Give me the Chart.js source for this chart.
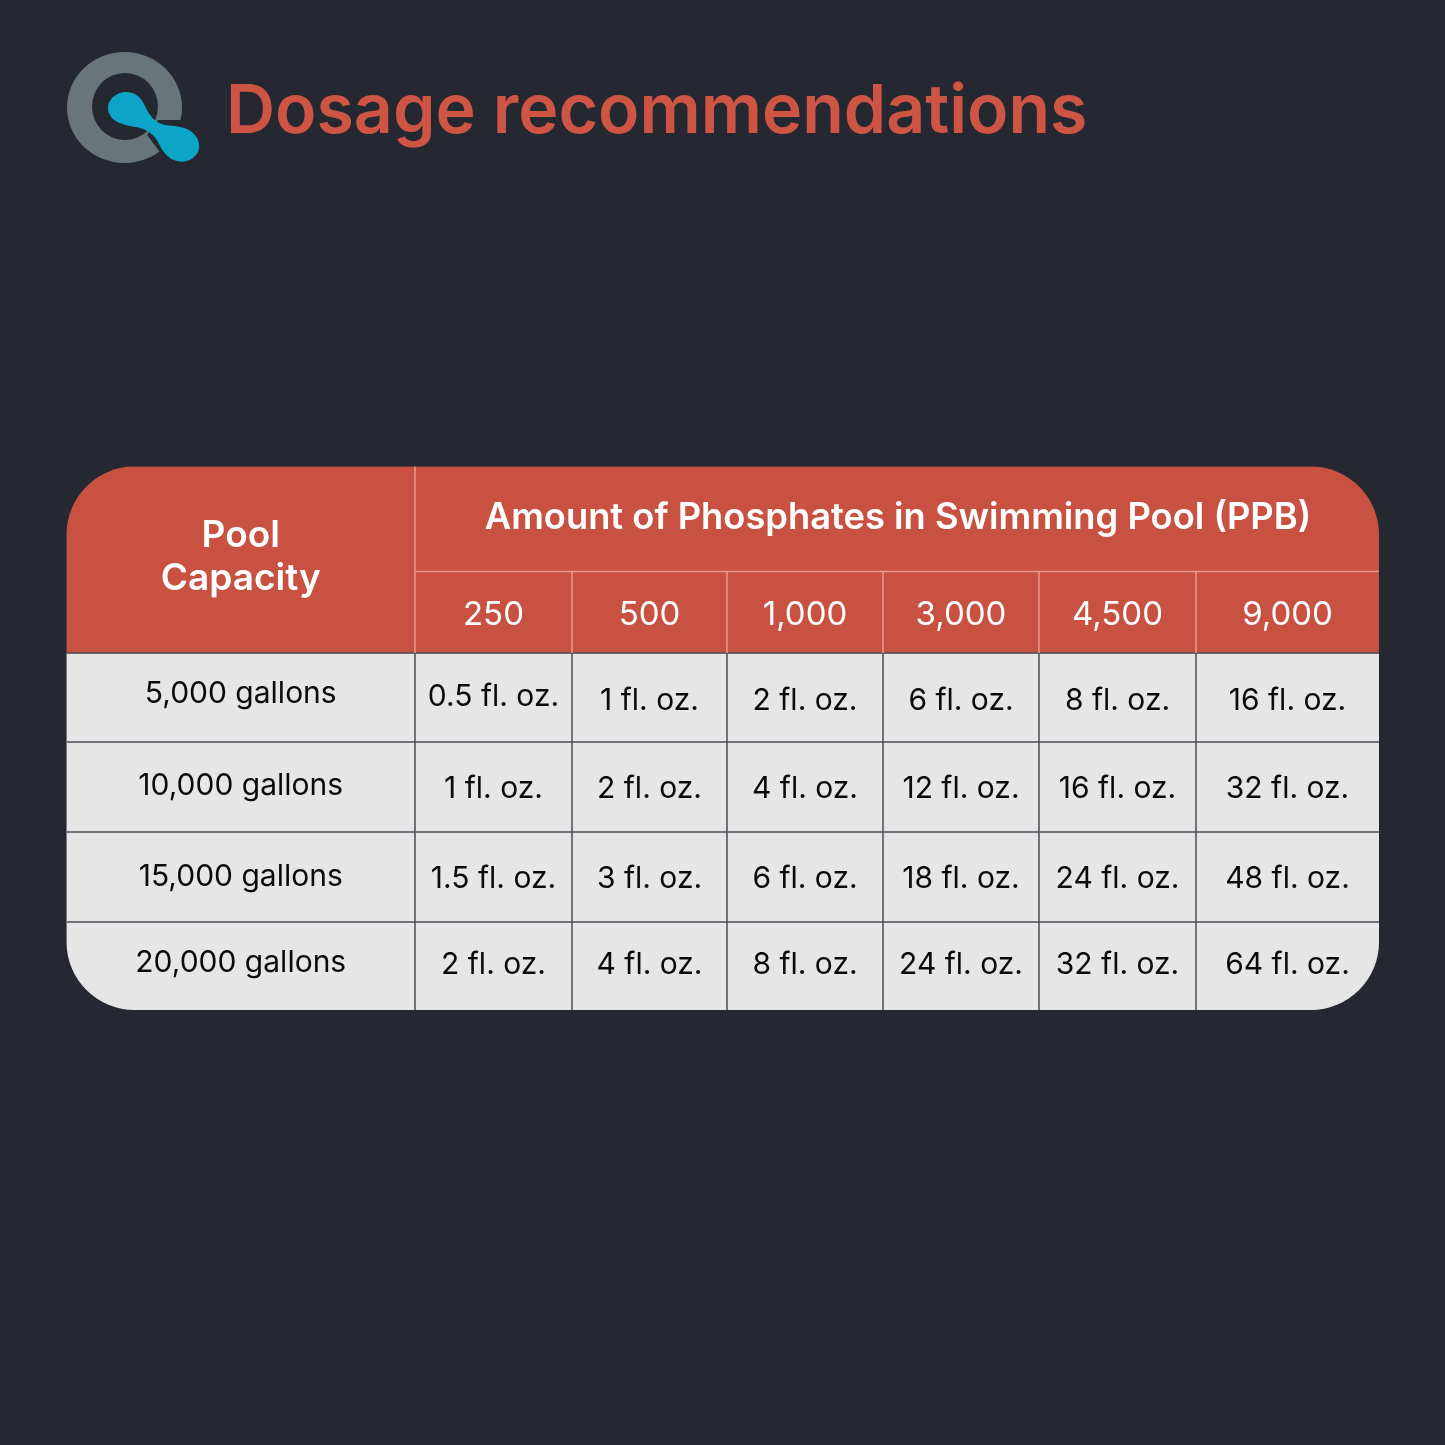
<!DOCTYPE html>
<html>
<head>
<meta charset="utf-8">
<title>Dosage recommendations</title>
<script src="https://cdn.jsdelivr.net/npm/chart.js@4"></script>
<style>
    body { margin: 0; background: #252831; }
    canvas { display: block; }
</style>
</head>
<body>
<canvas id="myChart" width="1445" height="1445"></canvas>
<script>
const titleText = 'Dosage recommendations';
const firstHeader = ['Pool', 'Capacity'];
const groupHeader = 'Amount of Phosphates in Swimming Pool (PPB)';
const phosphateLevels = ['250', '500', '1,000', '3,000', '4,500', '9,000'];
const poolCapacities = ['5,000 gallons', '10,000 gallons', '15,000 gallons', '20,000 gallons'];
const dose5000 = [0.5, 1, 2, 6, 8, 16];
const dose10000 = [1, 2, 4, 12, 16, 32];
const dose15000 = [1.5, 3, 6, 18, 24, 48];
const dose20000 = [2, 4, 8, 24, 32, 64];
const doses = [dose5000, dose10000, dose15000, dose20000];

// table layout, in page pixels
const colEdges = [66.5, 415, 572, 727, 883, 1039, 1196, 1379];
const rowEdges = [653, 742, 832, 922, 1010];
const tableTop = 466.5;
const subHeaderTop = 571.5;
const cornerRadius = 68;
const nameBaselines = [703, 795, 886, 972];
const doseBaselines = [[706, 710, 710, 710, 710, 710], [798, 798, 798, 798, 798, 798], [888, 888, 888, 888, 888, 888], [974, 974, 974, 974, 974, 974]];

const RED = '#c95141';
const CELL = '#e6e6e6';
const HEADER_LINE = '#ea9a8f';
const BODY_LINE = '#484c55';
const FONT = 'Inter';

function bandDataset(cells, top, bottom, color) {
    return {
        type: 'bar',
        indexAxis: 'y',
        grouped: false,
        order: 2,
        barThickness: bottom - top,
        backgroundColor: color,
        borderSkipped: false,
        data: cells.map(c => ({ x: c, y: (top + bottom) / 2 }))
    };
}

function lineDataset(x1, y1, x2, y2, color, width) {
    return {
        type: 'line',
        order: 1,
        borderColor: color,
        borderWidth: width,
        pointRadius: 0,
        data: [{ x: x1, y: y1 }, { x: x2, y: y2 }]
    };
}

function generateDatasets() {
    let datasets = [];
    let subCells = [];
    for (let c = 1; c < colEdges.length - 1; c++) subCells.push([colEdges[c], colEdges[c + 1]]);

    datasets.push(bandDataset([[colEdges[0], colEdges[1]]], tableTop, rowEdges[0], RED));
    datasets.push(bandDataset([[colEdges[1], colEdges[7]]], tableTop, subHeaderTop, RED));
    datasets.push(bandDataset(subCells, subHeaderTop, rowEdges[0], RED));

    for (let r = 0; r < doses.length; r++) {
        let cells = [[colEdges[0], colEdges[1]]].concat(subCells);
        datasets.push(bandDataset(cells, rowEdges[r], rowEdges[r + 1], CELL));
    }

    // header lines
    datasets.push(lineDataset(colEdges[1], tableTop, colEdges[1], rowEdges[0], HEADER_LINE, 1.5));
    datasets.push(lineDataset(colEdges[1], subHeaderTop, colEdges[7], subHeaderTop, HEADER_LINE, 1.5));
    for (let c = 2; c < 7; c++) {
        datasets.push(lineDataset(colEdges[c], subHeaderTop, colEdges[c], rowEdges[0], HEADER_LINE, 1.5));
    }
    // body lines
    for (let c = 1; c < 7; c++) {
        datasets.push(lineDataset(colEdges[c], rowEdges[0], colEdges[c], rowEdges[4], BODY_LINE, 1.5));
    }
    for (let r = 0; r < 4; r++) {
        datasets.push(lineDataset(colEdges[0], rowEdges[r], colEdges[7], rowEdges[r], BODY_LINE, 1.5));
    }
    return datasets;
}

// clips the cells to the rounded table outline
const tableClip = {
    id: 'tableClip',
    beforeDatasetsDraw(chart) {
        const { ctx, scales } = chart;
        const x = scales.x.getPixelForValue(colEdges[0]);
        const y = scales.y.getPixelForValue(tableTop);
        const w = scales.x.getPixelForValue(colEdges[7]) - x;
        const h = scales.y.getPixelForValue(rowEdges[4]) - y;
        ctx.save();
        ctx.beginPath();
        ctx.roundRect(x, y, w, h, cornerRadius);
        ctx.clip();
    },
    afterDatasetsDraw(chart) {
        chart.ctx.restore();
    }
};

function putText(ctx, text, x, y, font, color) {
    ctx.font = font;
    ctx.fillStyle = color;
    ctx.textAlign = 'center';
    ctx.textBaseline = 'alphabetic';
    ctx.fillText(text, x, y);
}

const tableText = {
    id: 'tableText',
    afterDraw(chart) {
        const { ctx, scales } = chart;
        const px = v => scales.x.getPixelForValue(v);
        const py = v => scales.y.getPixelForValue(v);
        const mid = c => px((colEdges[c] + colEdges[c + 1]) / 2);

        ctx.save();
        ctx.textAlign = 'left';
        ctx.textBaseline = 'alphabetic';
        ctx.font = '600 68px ' + FONT;
        ctx.fillStyle = '#ce5443';
        ctx.fillText(titleText, px(226), py(133));

        putText(ctx, firstHeader[0], mid(0), py(547), '600 37px ' + FONT, '#ffffff');
        putText(ctx, firstHeader[1], mid(0), py(590), '600 37px ' + FONT, '#ffffff');
        putText(ctx, groupHeader, px(898), py(529), '600 36.3px ' + FONT, '#ffffff');

        phosphateLevels.forEach((label, c) => {
            putText(ctx, label, mid(c + 1), py(625), '400 33px ' + FONT, '#ffffff');
        });
        poolCapacities.forEach((label, r) => {
            putText(ctx, label, mid(0), py(nameBaselines[r]), '400 30px ' + FONT, '#0a0a0a');
            doses[r].forEach((dose, c) => {
                putText(ctx, dose + ' fl. oz.', mid(c + 1), py(doseBaselines[r][c]), '400 30px ' + FONT, '#0a0a0a');
            });
        });
        ctx.restore();
    }
};

const logo = {
    id: 'logo',
    beforeDatasetsDraw(chart) {
        const ctx = chart.ctx;
        ctx.save();
        ctx.fillStyle = '#68767a';
        ctx.fill(new Path2D('M124.500 52a57.500 55.500 0 1 0 0 111a57.500 55.500 0 1 0 0-111zM125 73a33 33.500 0 1 1 0 67a33 33.500 0 1 1 0-67z'), 'evenodd');
        ctx.fillStyle = '#252831';
        ctx.fill(new Path2D('M158 120L190 120L190 180L175 172L147 135z'));
        ctx.fillStyle = '#0ca5c7';
        ctx.fill(new Path2D('M126 92C135 92 141 97 145 106C149 115 155 123 165 125C176 126 188 127 194 134C200 140 201 150 196 155C191 161 184 163 177 161C168 159 163 152 159 144C155 135 147 129 136 127C124 125 113 123 109 113C105 102 115 92 126 92z'));
        ctx.restore();
    }
};

new Chart(document.getElementById('myChart'), {
    data: { datasets: generateDatasets() },
    plugins: [logo, tableClip, tableText],
    options: {
        responsive: false,
        animation: false,
        events: [],
        layout: { padding: 0 },
        plugins: {
            legend: { display: false },
            tooltip: { enabled: false },
            title: { display: false }
        },
        scales: {
            x: { type: 'linear', min: 0, max: 1445, offset: false, display: false },
            y: { type: 'linear', min: 0, max: 1445, offset: false, reverse: true, display: false }
        }
    }
});
</script>
</body>
</html>
